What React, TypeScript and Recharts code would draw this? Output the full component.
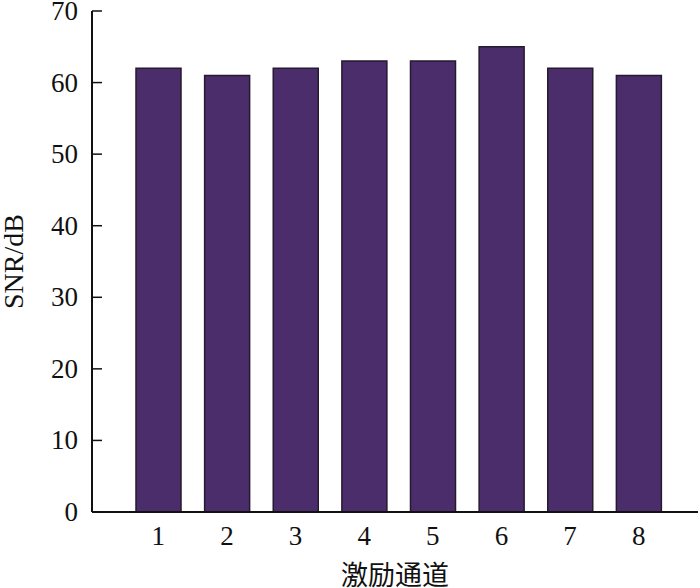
import { BarChart, Bar, XAxis, YAxis } from "recharts";

const channels = ["1", "2", "3", "4", "5", "6", "7", "8"];
const snrValues = [62, 61, 62, 63, 63, 65, 62, 61];
const yTicks = [0, 10, 20, 30, 40, 50, 60, 70];

const data = channels.map((ch, i) => ({ channel: ch, snr: snrValues[i] }));

const SERIF = '"Liberation Serif", "Times New Roman", serif';
const CJK = '"Noto Sans CJK SC", "Liberation Serif", serif';
const TICK_GAP = 14;

function YTick(props: any) {
  const { x, y, payload } = props;
  const axisX = x + TICK_GAP;
  return (
    <g>
      <line x1={axisX} x2={axisX + 10} y1={y} y2={y} stroke="#111" strokeWidth={1.5} />
      <text x={x} y={y} dy={9} textAnchor="end" fontSize={27} fontFamily={SERIF} fill="#111">
        {payload.value}
      </text>
    </g>
  );
}

function XTick(props: any) {
  const { x, y, payload } = props;
  return (
    <text x={x} y={y} dy={19} textAnchor="middle" fontSize={27} fontFamily={SERIF} fill="#111">
      {payload.value}
    </text>
  );
}

function YTitle(props: any) {
  const vb = props.viewBox || { x: 0, y: 11, width: 92, height: 501 };
  const cx = vb.x + 23;
  const cy = vb.y + vb.height / 2;
  return (
    <text x={cx} y={cy} transform={`rotate(-90 ${cx} ${cy})`} textAnchor="middle" fontSize={28} fontFamily={SERIF} fill="#111">
      SNR/dB
    </text>
  );
}

function XTitle(props: any) {
  const vb = props.viewBox || { x: 92, y: 512, width: 606, height: 76 };
  return (
    <text x={vb.x + vb.width / 2} y={vb.y + 73} textAnchor="middle" fontSize={27} fontFamily={CJK} fill="#111">
      激励通道
    </text>
  );
}

export default function App() {
  return (
    <div style={{ position: "absolute", left: 0, top: 0, width: 700, height: 588, background: "#fff" }}>
      <BarChart width={700} height={588} data={data} margin={{ top: 11, right: 2, bottom: 0, left: 0 }}>
        <XAxis
          dataKey="channel"
          height={76}
          padding={{ left: 32, right: 25 }}
          tickLine={false}
          tickSize={0}
          tickMargin={TICK_GAP}
          tick={<XTick />}
          axisLine={{ stroke: "#111", strokeWidth: 2 }}
          label={<XTitle />}
        />
        <XAxis
          xAxisId="top"
          dataKey="channel"
          orientation="top"
          height={0}
          tick={false}
          tickLine={false}
          axisLine={{ stroke: "#111", strokeWidth: 2 }}
        />
        <YAxis
          domain={[0, 70]}
          ticks={yTicks}
          width={92}
          tickLine={false}
          tickSize={0}
          tickMargin={TICK_GAP}
          tick={<YTick />}
          axisLine={{ stroke: "#111", strokeWidth: 2 }}
          label={<YTitle />}
        />
        <YAxis
          yAxisId="right"
          orientation="right"
          domain={[0, 70]}
          width={0}
          tick={false}
          tickLine={false}
          axisLine={{ stroke: "#111", strokeWidth: 2 }}
        />
        <Bar
          dataKey="snr"
          fill="#4b2d6c"
          stroke="#261a2e"
          strokeWidth={1.5}
          barSize={45}
          isAnimationActive={false}
        />
      </BarChart>
    </div>
  );
}
